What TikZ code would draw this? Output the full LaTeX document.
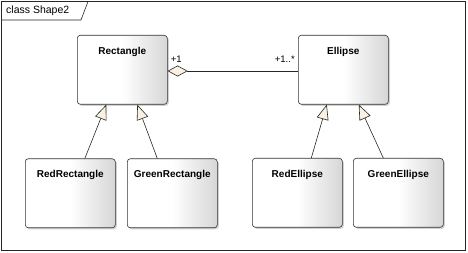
\documentclass[tikz,border=0pt]{standalone}
\usepackage{fontspec}
\setmainfont{Liberation Sans}
\usetikzlibrary{arrows.meta,shadows}
\definecolor{tipfill}{HTML}{FBF1E2}
\tikzset{
  cls/.style={draw=black!80, line width=0.6pt, rounded corners=3pt,
    minimum width=90pt, inner xsep=0pt, inner ysep=0pt,
    text height=19pt, text depth=50pt,
    font=\bfseries\fontsize{10}{12}\selectfont,
    left color=white, right color=black!16, middle color=white,
    drop shadow={shadow xshift=1.5pt, shadow yshift=-1.5pt, fill=black, opacity=0.18}},
  mult/.style={inner sep=0pt, font=\fontsize{9.5}{11}\selectfont},
  inherit/.style={draw=black!85, line width=0.6pt,
    -{Triangle[length=15pt,width=12pt,fill=tipfill]}},
  aggr/.style={draw=black!85, line width=0.6pt,
    -{Diamond[length=20pt,width=11pt,fill=tipfill]}}
}
\begin{document}
\begin{tikzpicture}[x=1pt,y=-1pt]
  \useasboundingbox (0,0) rectangle (468,253);
  % frame
  \draw[black!85, line width=0.6pt] (1.5,1.5) rectangle (465.5,250.5);
  \draw[black!85, line width=0.6pt] (1.5,20) -- (81,20) -- (88,1.5);
  \node[anchor=west, inner sep=0pt, font=\fontsize{10.5}{12}\selectfont] (title) at (6,11) {class Shape2};
  % classes
  \node[cls, anchor=north west] (rect) at (77,35) {Rectangle};
  \node[cls, anchor=north west] (ellipse) at (298,35) {Ellipse};
  \node[cls, anchor=north west] (redrect) at (25,158.5) {RedRectangle};
  \node[cls, anchor=north west] (greenrect) at (127,158.5) {GreenRectangle};
  \node[cls, anchor=north west] (redell) at (252,158) {RedEllipse};
  \node[cls, anchor=north west] (greenell) at (353,158) {GreenEllipse};
  % association
  \draw[aggr] ([yshift=-1.2pt]ellipse.west) -- ([yshift=-1.2pt]rect.east)
    node[mult, pos=1, anchor=base west, xshift=3pt, yshift=8.7pt] (m1) {+1}
    node[mult, pos=0, anchor=base east, xshift=-3pt, yshift=8.7pt] (m2) {+1..*};
  % generalizations
  \draw[inherit] ([xshift=14.5pt]redrect.north) -- ([xshift=-16pt]rect.south);
  \draw[inherit] ([xshift=-15pt]greenrect.north) -- ([xshift=15pt]rect.south);
  \draw[inherit] ([xshift=14pt]redell.north) -- ([xshift=-16.5pt]ellipse.south);
  \draw[inherit] ([xshift=-15pt]greenell.north) -- ([xshift=15.5pt]ellipse.south);
\end{tikzpicture}
\end{document}
